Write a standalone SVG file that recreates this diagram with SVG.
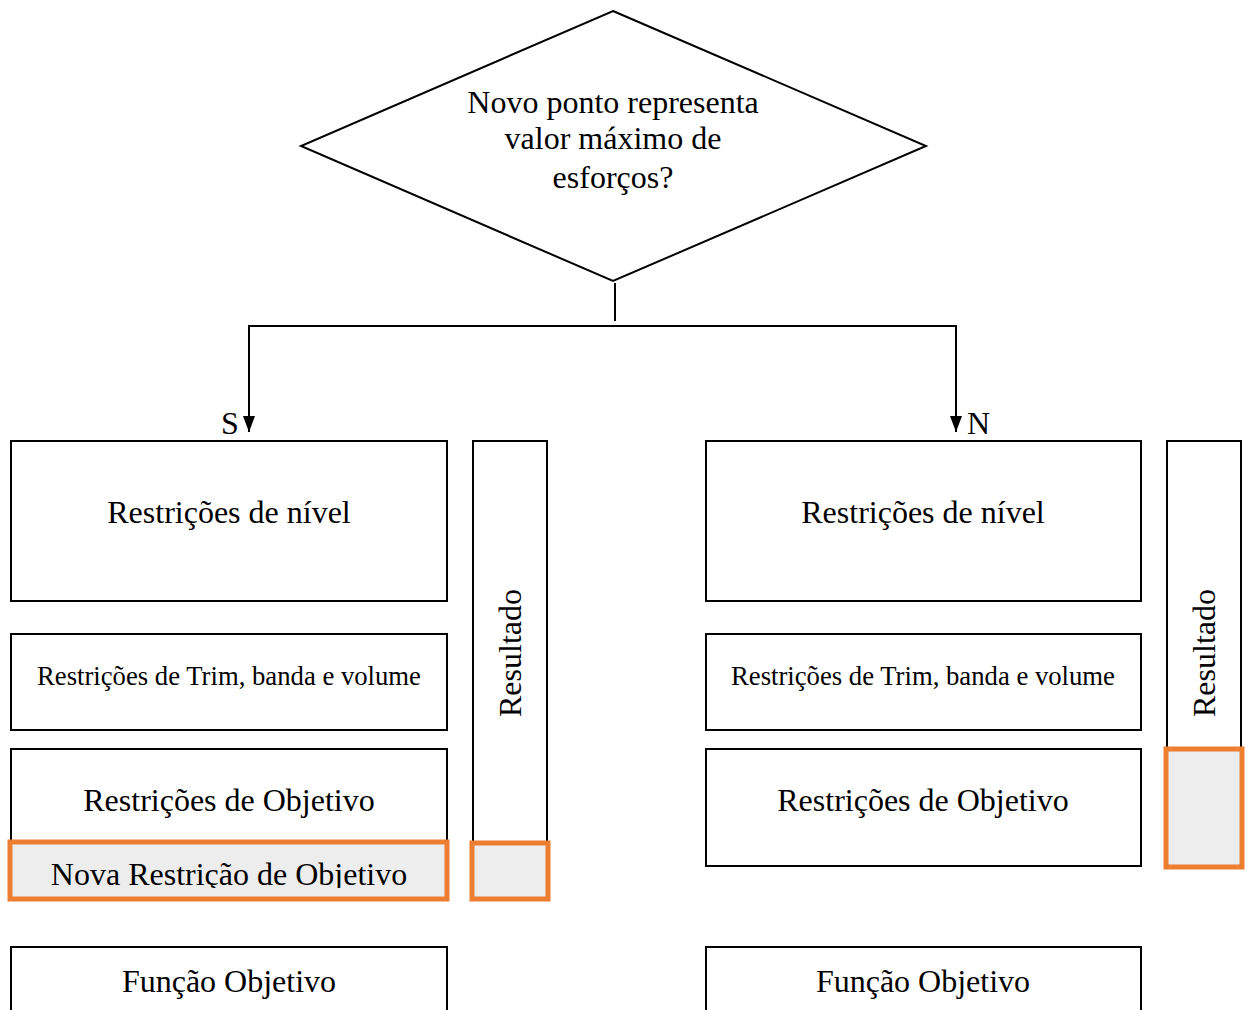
<svg xmlns="http://www.w3.org/2000/svg" width="1249" height="1010" viewBox="0 0 1249 1010">
<style>
text{font-family:"Liberation Serif","Times New Roman",serif;fill:#000}
.box{fill:#fff;stroke:#000;stroke-width:2}
.hl{fill:#ededed;stroke:#ed7d31;stroke-width:5}
.big{font-size:32px;text-anchor:middle}
.sm{font-size:26.7px;text-anchor:middle}
.conn{fill:none;stroke:#000;stroke-width:2}
</style>
<defs>
<marker id="arr" viewBox="0 0 16 12" refX="16" refY="6" markerWidth="16" markerHeight="12" markerUnits="userSpaceOnUse" orient="auto">
<path d="M0,0 L16,6 L0,12 z" fill="#000"/>
</marker>
<clipPath id="clipNova"><rect x="12" y="843" width="433" height="45"/></clipPath>
</defs>
<rect width="1249" height="1010" fill="#fff"/>
<g id="decision">
<polygon points="613,11 926,146 613,281 301,146" fill="#fff" stroke="#000" stroke-width="2"/>
<text class="big" x="613" y="113">Novo ponto representa</text>
<text class="big" x="613" y="149">valor máximo de</text>
<text class="big" x="613" y="188">esforços?</text>
</g>
<g id="connectors">
<line class="conn" x1="615" y1="283" x2="615" y2="321"/>
<polyline class="conn" points="249,326 956,326"/>
<line class="conn" x1="249" y1="325" x2="249" y2="432" marker-end="url(#arr)"/>
<line class="conn" x1="956" y1="325" x2="956" y2="432" marker-end="url(#arr)"/>
<text x="221" y="434" style="font-size:32px">S</text>
<text x="967" y="434" style="font-size:32px">N</text>
</g>
<g id="left-nivel"><rect class="box" x="11" y="441" width="436" height="160"/><text class="big" x="229" y="523">Restrições de nível</text></g>
<g id="left-trim"><rect class="box" x="11" y="634" width="436" height="96"/><text class="sm" x="229" y="685">Restrições de Trim, banda e volume</text></g>
<g id="left-objetivo"><rect class="box" x="11" y="749" width="436" height="117"/><text class="big" x="229" y="811">Restrições de Objetivo</text></g>
<g id="left-nova"><rect class="hl" x="10" y="842" width="437" height="57"/><text class="big" x="229" y="885" clip-path="url(#clipNova)">Nova Restrição de Objetivo</text></g>
<g id="left-resultado"><rect class="box" x="473" y="441" width="74" height="402"/><text class="big" transform="translate(521,653) rotate(-90)">Resultado</text></g>
<g id="left-resultado-hl"><rect class="hl" x="472" y="843" width="76" height="56"/></g>
<g id="left-funcao"><rect class="box" x="11" y="947" width="436" height="70"/><text class="big" x="229" y="992">Função Objetivo</text></g>
<g id="right-nivel"><rect class="box" x="706" y="441" width="435" height="160"/><text class="big" x="923" y="523">Restrições de nível</text></g>
<g id="right-trim"><rect class="box" x="706" y="634" width="435" height="96"/><text class="sm" x="923" y="685">Restrições de Trim, banda e volume</text></g>
<g id="right-objetivo"><rect class="box" x="706" y="749" width="435" height="117"/><text class="big" x="923" y="811">Restrições de Objetivo</text></g>
<g id="right-resultado"><rect class="box" x="1167" y="441" width="74" height="308"/><text class="big" transform="translate(1215,653) rotate(-90)">Resultado</text></g>
<g id="right-resultado-hl"><rect class="hl" x="1166" y="749" width="76" height="118"/></g>
<g id="right-funcao"><rect class="box" x="706" y="947" width="435" height="70"/><text class="big" x="923" y="992">Função Objetivo</text></g>
</svg>
